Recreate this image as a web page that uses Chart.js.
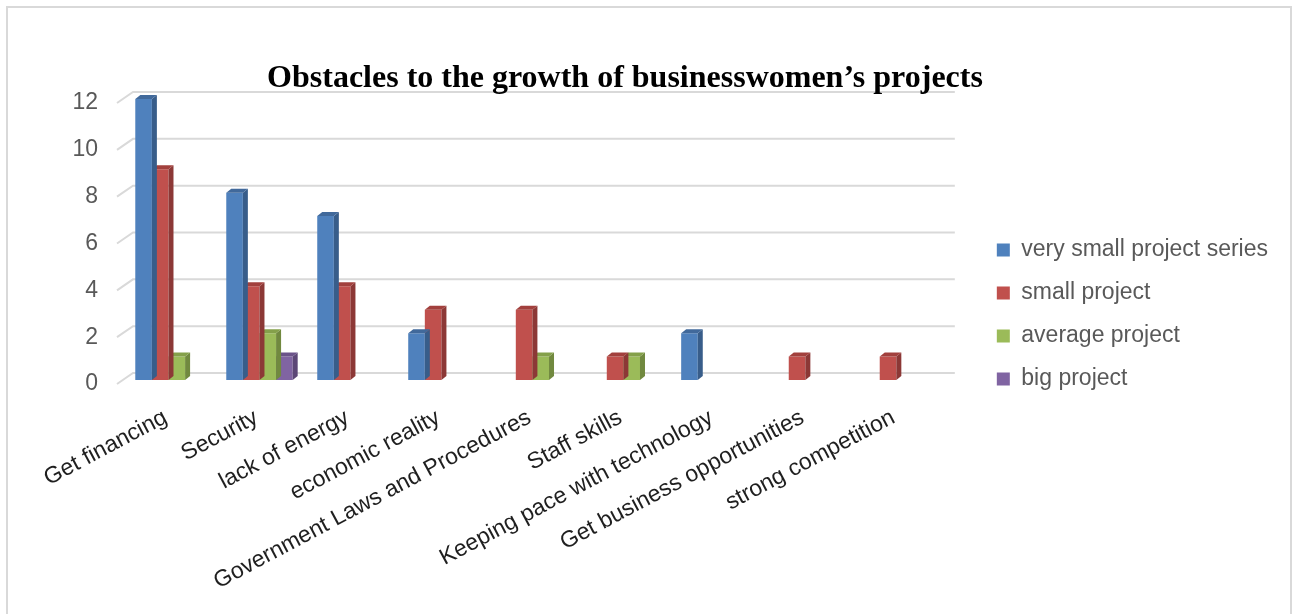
<!DOCTYPE html>
<html>
<head>
<meta charset="utf-8">
<script src="https://cdn.jsdelivr.net/npm/chart.js@4.4.1/dist/chart.umd.min.js"></script>
<style>
  html, body { margin: 0; padding: 0; background: #fff; }
  #wrap { width: 1294px; height: 614px; }
</style>
</head>
<body>
<div id="wrap"><canvas id="obstaclesChart"></canvas></div>
<script>
// data
const categories = ["Get financing", "Security", "lack of energy", "economic reality",
    "Government Laws and Procedures", "Staff skills", "Keeping pace with technology",
    "Get business opportunities", "strong competition"];
const seriesNames = ["very small project series", "small project", "average project", "big project"];
const verySmall = [12, 8, 7, 2, null, null, 2, null, null];
const small = [9, 4, 4, 3, 3, 1, null, 1, 1];
const average = [1, 2, null, null, 1, 1, null, null, null];
const big = [null, 1, null, null, null, null, null, null, null];
const yTicks = [0, 2, 4, 6, 8, 10, 12];

const chartTitle = "Obstacles to the growth of businesswomen\u2019s projects";

// colours: front, side, top
const frontColors = ["#4F81BD", "#C0504D", "#9BBB59", "#8064A2"];
const sideColors = ["#385D8A", "#8C3836", "#71893F", "#5C4776"];
const topColors = ["#41699B", "#A2403D", "#84A04A", "#6B5389"];

const DX = 5, DY = 4;

/* 3D faces drawn after each series, so the next series covers the side */
const depthPlugin = {
    id: "depth",
    afterDatasetDraw(chart, args){
        const ctx = chart.ctx;
        const i = args.index;
        args.meta.data.forEach((bar, j) => {
            if(chart.data.datasets[i].data[j] == null) return;
            const p = bar.getProps(["x", "y", "base", "width"], true);
            const l = p.x - p.width / 2, r = p.x + p.width / 2;
            ctx.save();
            ctx.fillStyle = sideColors[i];
            ctx.beginPath();
            ctx.moveTo(r, p.y);
            ctx.lineTo(r + DX, p.y - DY);
            ctx.lineTo(r + DX, p.base - DY);
            ctx.lineTo(r, p.base);
            ctx.closePath();
            ctx.fill();
            ctx.fillStyle = topColors[i];
            ctx.beginPath();
            ctx.moveTo(l, p.y);
            ctx.lineTo(l + DX, p.y - DY);
            ctx.lineTo(r + DX, p.y - DY);
            ctx.lineTo(r, p.y);
            ctx.closePath();
            ctx.fill();
            ctx.restore();
        });
    }
};

/* back wall grid, frame and title */
const backdropPlugin = {
    id: "backdrop",
    beforeDraw(chart){
        const ctx = chart.ctx;
        ctx.save();
        ctx.strokeStyle = "#d9d9d9";
        ctx.lineWidth = 2;
        ctx.strokeRect(7, 7, 1284, 700);
        ctx.restore();
    },
    beforeDatasetsDraw(chart){
        const ctx = chart.ctx;
        const y = chart.scales.y;
        const a = chart.chartArea;
        ctx.save();
        ctx.strokeStyle = "#d9d9d9";
        ctx.lineWidth = 2;
        yTicks.forEach(v => {
            const py = y.getPixelForValue(v);
            ctx.beginPath();
            ctx.moveTo(a.left - 6, py + 4);
            ctx.lineTo(a.left + 10, py - 7);
            ctx.lineTo(a.right + 13, py - 7);
            ctx.stroke();
        });
        ctx.restore();
    },
    afterDraw(chart){
        const ctx = chart.ctx;
        ctx.save();
        ctx.fillStyle = "#000";
        ctx.font = "bold 32px 'Liberation Serif', 'Times New Roman', serif";
        ctx.textAlign = "center";
        ctx.textBaseline = "alphabetic";
        ctx.fillText(chartTitle, 625, 87);
        ctx.restore();
    }
};

const seriesData = [verySmall, small, average, big];

new Chart(document.getElementById("obstaclesChart"), {
    type: "bar",
    data: {
        labels: categories,
        datasets: seriesNames.map((name, i) => ({
            label: name,
            data: seriesData[i],
            backgroundColor: frontColors[i],
            borderWidth: 0,
            categoryPercentage: 0.73,
            barPercentage: 1,
            skipNull: false
        }))
    },
    options: {
        responsive: true,
        maintainAspectRatio: false,
        animation: false,
        layout: {
            padding: { top: 99, bottom: 0, left: 0, right: 16 }
        },
        scales: {
            x: {
                grid: { display: false, drawTicks: false },
                border: { display: false },
                ticks: {
                    minRotation: 28,
                    maxRotation: 28,
                    autoSkip: false,
                    padding: 24,
                    labelOffset: -3,
                    color: "#1f1f1f",
                    font: { family: "'Liberation Sans', Arial, sans-serif", size: 23 }
                },
                afterFit(s){ s.height = 234; }
            },
            y: {
                min: 0,
                max: 12,
                grid: { display: false, drawTicks: false },
                border: { display: false },
                ticks: {
                    stepSize: 2,
                    padding: 25,
                    labelOffset: 4,
                    color: "#595959",
                    font: { family: "'Liberation Sans', Arial, sans-serif", size: 23 }
                },
                afterFit(s){ s.width = 123; }
            },
            spacer: {
                position: "right",
                grid: { display: false, drawTicks: false },
                border: { display: false },
                ticks: { display: false },
                afterFit(s){ s.width = 35; }
            }
        },
        plugins: {
            title: { display: false },
            tooltip: { enabled: false },
            legend: {
                position: "right",
                align: "start",
                maxWidth: 340,
                title: {
                    display: true,
                    text: "",
                    font: { size: 12 },
                    padding: { top: 105, bottom: 0 }
                },
                labels: {
                    boxWidth: 13,
                    boxHeight: 13,
                    padding: 20,
                    color: "#595959",
                    font: { family: "'Liberation Sans', Arial, sans-serif", size: 23 }
                }
            }
        }
    },
    plugins: [backdropPlugin, depthPlugin]
});
</script>
</body>
</html>
